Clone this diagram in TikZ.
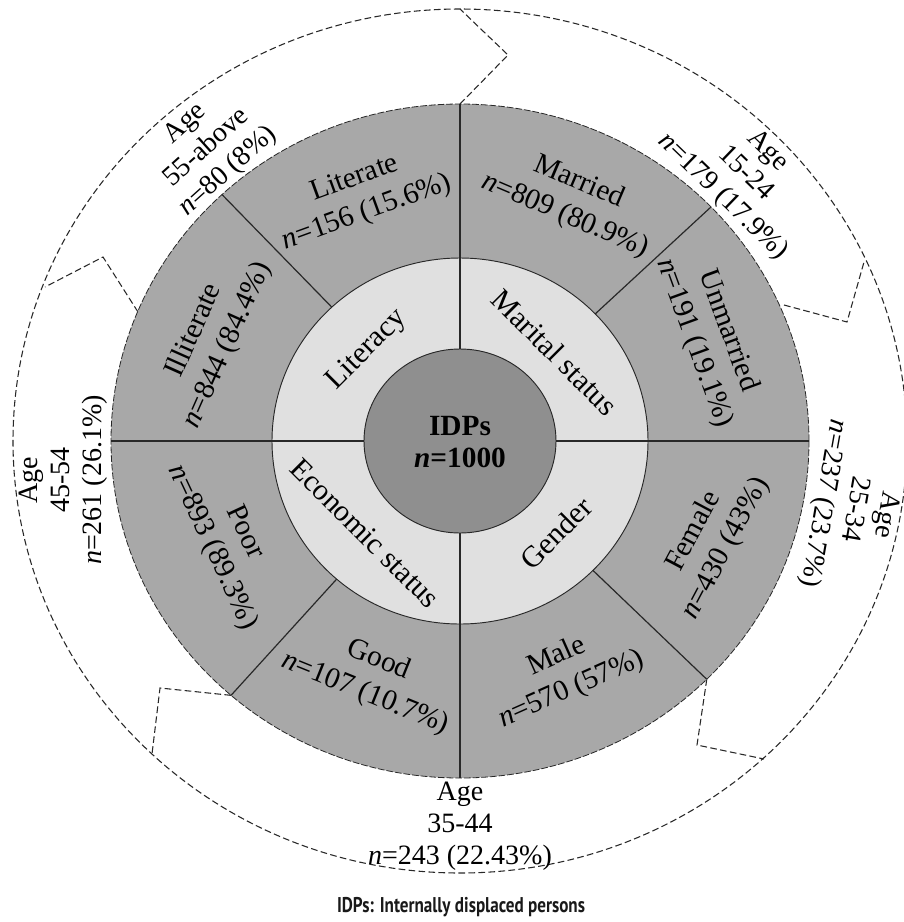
\documentclass[tikz,border=0pt]{standalone}
\usepackage{fontspec}
\setmainfont{Liberation Serif}
\newfontfamily\capfont{PT Sans}
\usetikzlibrary{calc}
\definecolor{ringgray}{RGB}{168,168,168}
\definecolor{lightring}{RGB}{224,224,224}
\definecolor{coregray}{RGB}{143,143,143}
\definecolor{inkgray}{RGB}{40,40,40}
\begin{document}
\begin{tikzpicture}[x=0.75pt,y=-0.75pt,
  agelabel/.style={font=\fontsize{21}{24}\selectfont, align=center, inner sep=0pt, text=black},
  seglabel/.style={font=\fontsize{22}{27}\selectfont, align=center, inner sep=0pt, text=black},
  ringlabel/.style={font=\fontsize{22.5}{26}\selectfont, inner sep=0pt, text=black},
  corelabel/.style={font=\bfseries\fontsize{22}{24}\selectfont, align=center, inner sep=0pt, text=black},
  divider/.style={draw=inkgray, line width=0.9pt},
  agedash/.style={draw=inkgray, line width=0.8pt, dash pattern=on 5pt off 2.5pt},
  ringedge/.style={draw=inkgray, line width=0.6pt, dash pattern=on 5pt off 1.5pt},
  solidedge/.style={draw=inkgray, line width=0.7pt}
]
\useasboundingbox (0,0) rectangle (904,922);
\fill[white] (0,0) rectangle (904,922);
\coordinate (C) at (460,441);
% outer age ring
\draw[agedash] (C) ellipse [x radius=335.25pt, y radius=324pt];
% age separators
\coordinate (a1) at (460,104); \coordinate (a1m) at (508,55); \coordinate (a1o) at (460,9);
\coordinate (a2) at (138,312); \coordinate (a2m) at (103,257); \coordinate (a2o) at (45,287);
\coordinate (a3) at (784,305); \coordinate (a3m) at (847,322); \coordinate (a3o) at (864,262);
\coordinate (a4) at ({460+349*cos(-45)},{441-337*sin(-45)}); \coordinate (a4m) at (697,745); \coordinate (a4o) at (764,759);
\coordinate (a5) at ({460+349*cos(229)},{441-337*sin(229)}); \coordinate (a5m) at (160,688); \coordinate (a5o) at (152,754);
\draw[agedash] (a1) -- (a1m) -- (a1o);
\draw[agedash] (a2) -- (a2m) -- (a2o);
\draw[agedash] (a3) -- (a3m) -- (a3o);
\draw[agedash] (a4) -- (a4m) -- (a4o);
\draw[agedash] (a5) -- (a5m) -- (a5o);
% rings
\fill[ringgray] (C) ellipse [x radius=261.75pt, y radius=252.75pt];
\draw[ringedge] (C) ellipse [x radius=261.75pt, y radius=252.75pt];
\fill[lightring] (C) ellipse [x radius=141pt, y radius=137.25pt];
\draw[solidedge] (C) ellipse [x radius=141pt, y radius=137.25pt];
% dividers
\coordinate (vt) at (460,104); \coordinate (vb) at (460,778);
\coordinate (hl) at (111,441); \coordinate (hr) at (809,441);
\draw[divider] (vt) -- (vb);
\draw[divider] (hl) -- (hr);
\foreach \t/\nm in {44/d1,133/d2,229/d3,-45/d4}{
  \coordinate (\nm i) at ({460+188*cos(\t)},{441-183*sin(\t)});
  \coordinate (\nm o) at ({460+349*cos(\t)},{441-337*sin(\t)});
  \draw[divider] (\nm i) -- (\nm o);
}
% core
\fill[coregray] (C) ellipse [x radius=72pt, y radius=69pt];
\draw[solidedge] (C) ellipse [x radius=72pt, y radius=69pt];
\node[corelabel] (core) at (460,442) {IDPs\\\textit{n}=1000};
% inner ring labels
\node[ringlabel, rotate=45] (lit) at (367,350) {Literacy};
\node[ringlabel, rotate=-45] (mar) at (555,352) {Marital status};
\node[ringlabel, rotate=-45] (eco) at (365,533) {Economic status};
\node[ringlabel, rotate=45] (gen) at (556,533) {Gender};
% segment labels
\node[seglabel, rotate=20] (literate) at (361,196) {Literate\\\textit{n}=156 (15.6\%)};
\node[seglabel, rotate=66] (illit) at (211,338) {Illiterate\\\textit{n}=844 (84.4\%)};
\node[seglabel, rotate=-23] (married) at (572,199) {Married\\\textit{n}=809 (80.9\%)};
\node[seglabel, rotate=-70] (unmar) at (711,337) {Unmarried\\\textit{n}=191 (19.1\%)};
\node[seglabel, rotate=62] (female) at (710,540) {Female\\\textit{n}=430 (43\%)};
\node[seglabel, rotate=24] (male) at (564,673) {Male\\\textit{n}=570 (57\%)};
\node[seglabel, rotate=-22] (good) at (372,677) {Good\\\textit{n}=107 (10.7\%)};
\node[seglabel, rotate=-65] (poor) at (228,540) {Poor\\\textit{n}=893 (89.3\%)};
% age labels
\node[agelabel, rotate=42] (age55) at (207,148) {Age\\55-above\\\textit{n}=80 (8\%)};
\node[agelabel, rotate=-44] (age15) at (745,174) {Age\\15-24\\\textit{n}=179 (17.9\%)};
\node[agelabel, rotate=-100] (age25) at (854,509) {Age\\25-34\\\textit{n}=237 (23.7\%)};
\node[agelabel] (age35) at (460,826) {Age\\35-44\\\textit{n}=243 (22.43\%)};
\node[agelabel, rotate=90] (age45) at (63,480) {Age\\45-54\\\textit{n}=261 (26.1\%)};
% caption
\node[font=\capfont\bfseries\fontsize{16}{18}\selectfont, text=black!90, inner sep=0pt] (cap) at (461,907) {\resizebox{186pt}{\height}{IDPs: Internally displaced persons}};
\end{tikzpicture}
\end{document}
